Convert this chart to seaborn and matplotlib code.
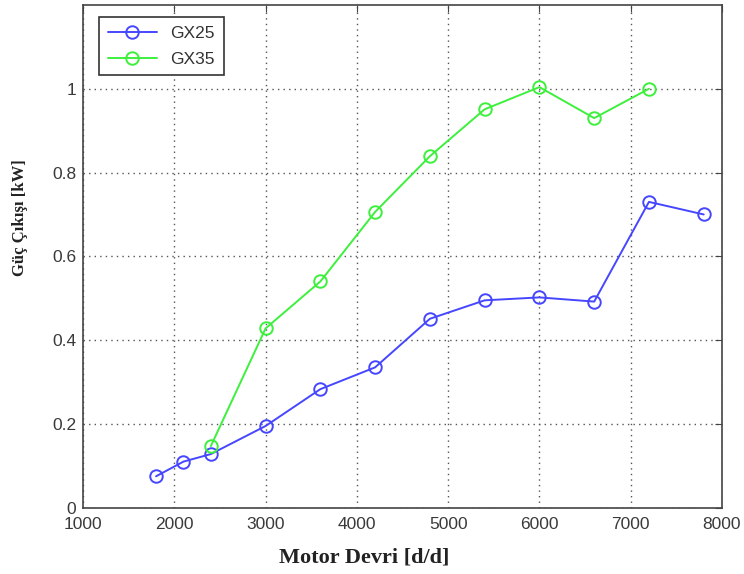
import matplotlib
matplotlib.use("Agg")
import matplotlib.pyplot as plt
import seaborn as sns
import pandas as pd

rpm_gx25 = [1800, 2100, 2400, 3000, 3600, 4200, 4800, 5400, 6000, 6600, 7200, 7800]
power_gx25 = [0.075, 0.110, 0.128, 0.195, 0.283, 0.335, 0.451, 0.495, 0.502, 0.492, 0.730, 0.700]
rpm_gx35 = [2400, 3000, 3600, 4200, 4800, 5400, 6000, 6600, 7200]
power_gx35 = [0.147, 0.428, 0.540, 0.706, 0.839, 0.951, 1.004, 0.930, 1.000]
series_names = ["GX25", "GX35"]
x_ticks = [1000, 2000, 3000, 4000, 5000, 6000, 7000, 8000]
y_ticks = [0, 0.2, 0.4, 0.6, 0.8, 1.0]
y_tick_labels = ["0", "0.2", "0.4", "0.6", "0.8", "1"]

sns.set_style("white")
fig = plt.figure(figsize=(7.44, 5.74), dpi=100)
ax = fig.add_axes([0.1116, 0.1155, 0.8588, 0.8758])

colors = ["#4646ff", "#3cf03c"]
for name, xs, ys, c in zip(series_names, [rpm_gx25, rpm_gx35], [power_gx25, power_gx35], colors):
    df = pd.DataFrame({"x": xs, "y": ys})
    sns.lineplot(data=df, x="x", y="y", ax=ax, color=c, linewidth=1.4,
                 marker="o", markersize=9, markerfacecolor="none",
                 markeredgecolor=c, markeredgewidth=1.4, label=name)

ax.set_xlim(1000, 8000)
ax.set_ylim(0, 1.2)
ax.set_xticks(x_ticks)
ax.set_xticklabels([str(t) for t in x_ticks])
ax.set_yticks(y_ticks)
ax.set_yticklabels(y_tick_labels)
ax.grid(True, linestyle=(0, (1, 3)), color="#555555", linewidth=1.0)
ax.tick_params(direction="in", length=5, color="#444444", labelsize=12.5,
               labelcolor="#3a3a3a", top=True, right=True)
ax.tick_params(axis="x", pad=7)
ax.tick_params(axis="y", pad=5)
for t in ax.get_xticklabels() + ax.get_yticklabels():
    t.set_fontfamily("Liberation Sans")
for s in ax.spines.values():
    s.set_color("#444444")
    s.set_linewidth(1.2)

ax.set_xlabel("Motor Devri [d/d]", fontfamily="Liberation Serif", fontweight="bold",
              fontsize=16, color="#222222")
ax.xaxis.set_label_coords(0.44, -0.08)
ax.set_ylabel("Güç Çıkışı [kW]", fontfamily="Liberation Serif", fontweight="bold",
              fontsize=12, color="#222222")
ax.yaxis.set_label_coords(-0.086, 0.577)

leg = ax.legend(loc="upper left", bbox_to_anchor=(0.012, 0.993), frameon=True, fancybox=False,
                edgecolor="#333333", framealpha=1, prop={"family": "Liberation Sans", "size": 12.5},
                handlelength=2.8, borderpad=0.5, labelspacing=0.6)
leg.get_frame().set_linewidth(1.2)
for t in leg.get_texts():
    t.set_color("#333333")

fig.savefig("out.png", dpi=100)
